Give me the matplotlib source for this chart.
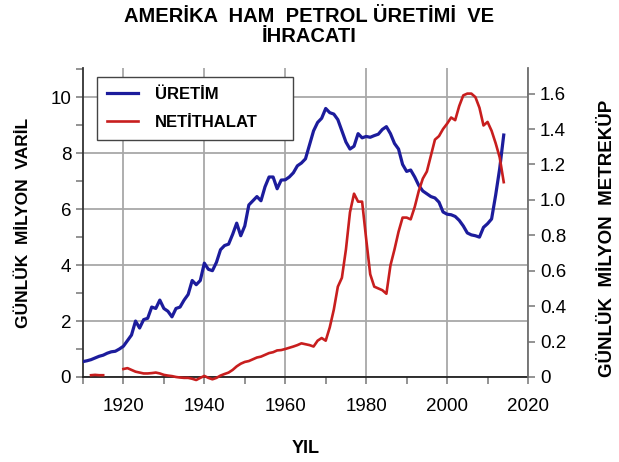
import matplotlib
matplotlib.use('Agg')
import matplotlib.pyplot as plt
import numpy as np
from matplotlib.ticker import MultipleLocator, FuncFormatter

plt.rcParams['font.family'] = ['Liberation Sans', 'DejaVu Sans']

# US crude production, million barrels/day
prod_years = list(range(1910, 2015))
prod = [0.55, 0.58, 0.62, 0.68, 0.74, 0.78, 0.85, 0.9, 0.92, 1.0,
        1.1, 1.3, 1.5, 2.0, 1.75, 2.05, 2.1, 2.5, 2.45, 2.75,
        2.45, 2.35, 2.15, 2.45, 2.5, 2.75, 2.95, 3.45, 3.3, 3.45,
        4.07, 3.85, 3.8, 4.1, 4.55, 4.7, 4.75, 5.1, 5.5, 5.05,
        5.4, 6.15, 6.3, 6.45, 6.3, 6.8, 7.15, 7.15, 6.73, 7.04,
        7.05, 7.15, 7.3, 7.55, 7.65, 7.8, 8.3, 8.8, 9.1, 9.25,
        9.6, 9.45, 9.4, 9.2, 8.8, 8.4, 8.15, 8.25, 8.7, 8.55,
        8.6, 8.57, 8.63, 8.68, 8.85, 8.95, 8.7, 8.35, 8.15, 7.6,
        7.35, 7.4, 7.15, 6.85, 6.65, 6.55, 6.45, 6.4, 6.25, 5.9,
        5.82, 5.8, 5.74, 5.6, 5.4, 5.15, 5.08, 5.05, 5.0, 5.35,
        5.48, 5.65, 6.5, 7.45, 8.65]

# net imports, million cubic metres/day (right axis)
imp_years = list(range(1912, 2015))
imports = [0.01, 0.012, 0.01, 0.01, np.nan, np.nan, np.nan, np.nan,
           0.045, 0.05, 0.04, 0.03, 0.025, 0.02, 0.02, 0.022, 0.025, 0.02,
           0.012, 0.008, 0.005, 0.0, -0.003, -0.005, -0.005, -0.01, -0.017, -0.005,
           0.006, -0.005, -0.013, -0.005, 0.008, 0.017, 0.025, 0.04, 0.06, 0.075,
           0.085, 0.09, 0.1, 0.11, 0.115, 0.125, 0.135, 0.14, 0.15, 0.152,
           0.158, 0.165, 0.172, 0.18, 0.19, 0.185, 0.18, 0.172, 0.205, 0.22,
           0.205, 0.28, 0.38, 0.51, 0.56, 0.72, 0.93, 1.035, 0.99, 0.99,
           0.78, 0.58, 0.51, 0.5, 0.49, 0.47, 0.63, 0.72, 0.82, 0.9,
           0.9, 0.89, 0.96, 1.05, 1.12, 1.16, 1.25, 1.34, 1.36, 1.4,
           1.43, 1.465, 1.45, 1.53, 1.59, 1.6, 1.6, 1.58, 1.52, 1.42,
           1.44, 1.39, 1.32, 1.24, 1.10]

blue = '#1c1c9c'
red = '#c81e1e'

fig = plt.figure(figsize=(6.19, 4.62), dpi=100)
ax = fig.add_axes([0.134, 0.184, 0.719, 0.669])
ax2 = ax.twinx()

l1, = ax.plot(prod_years, prod, color=blue, lw=2.3, label='ÜRETİM', zorder=3)
l2, = ax2.plot(imp_years, imports, color=red, lw=1.9, label='NETİTHALAT', zorder=3,
               clip_on=False)

ax.set_xlim(1910, 2020)
ax.set_ylim(0, 11.05)
ax2.set_ylim(0, 1.745)

ax.xaxis.set_major_locator(MultipleLocator(20))
ax.xaxis.set_minor_locator(MultipleLocator(10))
ax.yaxis.set_major_locator(MultipleLocator(2))
ax.yaxis.set_minor_locator(MultipleLocator(1))
ax2.yaxis.set_major_locator(MultipleLocator(0.2))
ax2.yaxis.set_major_formatter(FuncFormatter(lambda v, p: '0' if abs(v) < 1e-9 else f'{v:.1f}'))

ax.grid(True, which='major', color='#a8a8a8', lw=1.3)
ax.set_axisbelow(True)

for a in (ax, ax2):
    a.spines['top'].set_visible(False)
ax.spines['right'].set_visible(False)
ax2.spines['left'].set_visible(False)
ax2.spines['bottom'].set_visible(False)
ax2.spines['right'].set_color('#707070')
ax2.spines['right'].set_linewidth(1.3)
ax.spines['left'].set_color('#333333')
ax.spines['left'].set_linewidth(1.3)
ax.spines['bottom'].set_color('#222222')
ax.spines['bottom'].set_linewidth(1.3)

ax.tick_params(which='both', direction='out', length=5, color='#808080', labelsize=13.5, width=1.2)
ax2.tick_params(which='both', direction='out', length=5, color='#808080', labelsize=13.5, width=1.2)
ax.tick_params(axis='x', pad=10)

ax.set_xlabel('YIL', fontsize=13, fontweight='bold', labelpad=18)
ax.set_ylabel('GÜNLÜK  MİLYON  VARİL', fontsize=12.5, fontweight='bold', labelpad=14)
ax2.set_ylabel('GÜNLÜK  MİLYON  METREKÜP', fontsize=13.5, fontweight='bold')
ax2.yaxis.set_label_coords(1.16, 0.45)

fig.text(0.5, 0.985, 'AMERİKA  HAM  PETROL ÜRETİMİ  VE\nİHRACATI', ha='center', va='top',
         fontsize=14.5, fontweight='bold', linespacing=1.05)

leg = ax.legend(handles=[l1, l2], loc='upper left', bbox_to_anchor=(0.031, 0.972, 0.441, 0.0),
                mode='expand', prop={'weight': 'bold', 'size': 12}, frameon=True, fancybox=False,
                edgecolor='#444444', framealpha=1, handlelength=1.9, borderpad=0.6,
                labelspacing=0.8, handletextpad=1.0, borderaxespad=0.0)
leg.get_frame().set_linewidth(1.0)
leg.set_zorder(5)

fig.savefig('out.png', dpi=100)
